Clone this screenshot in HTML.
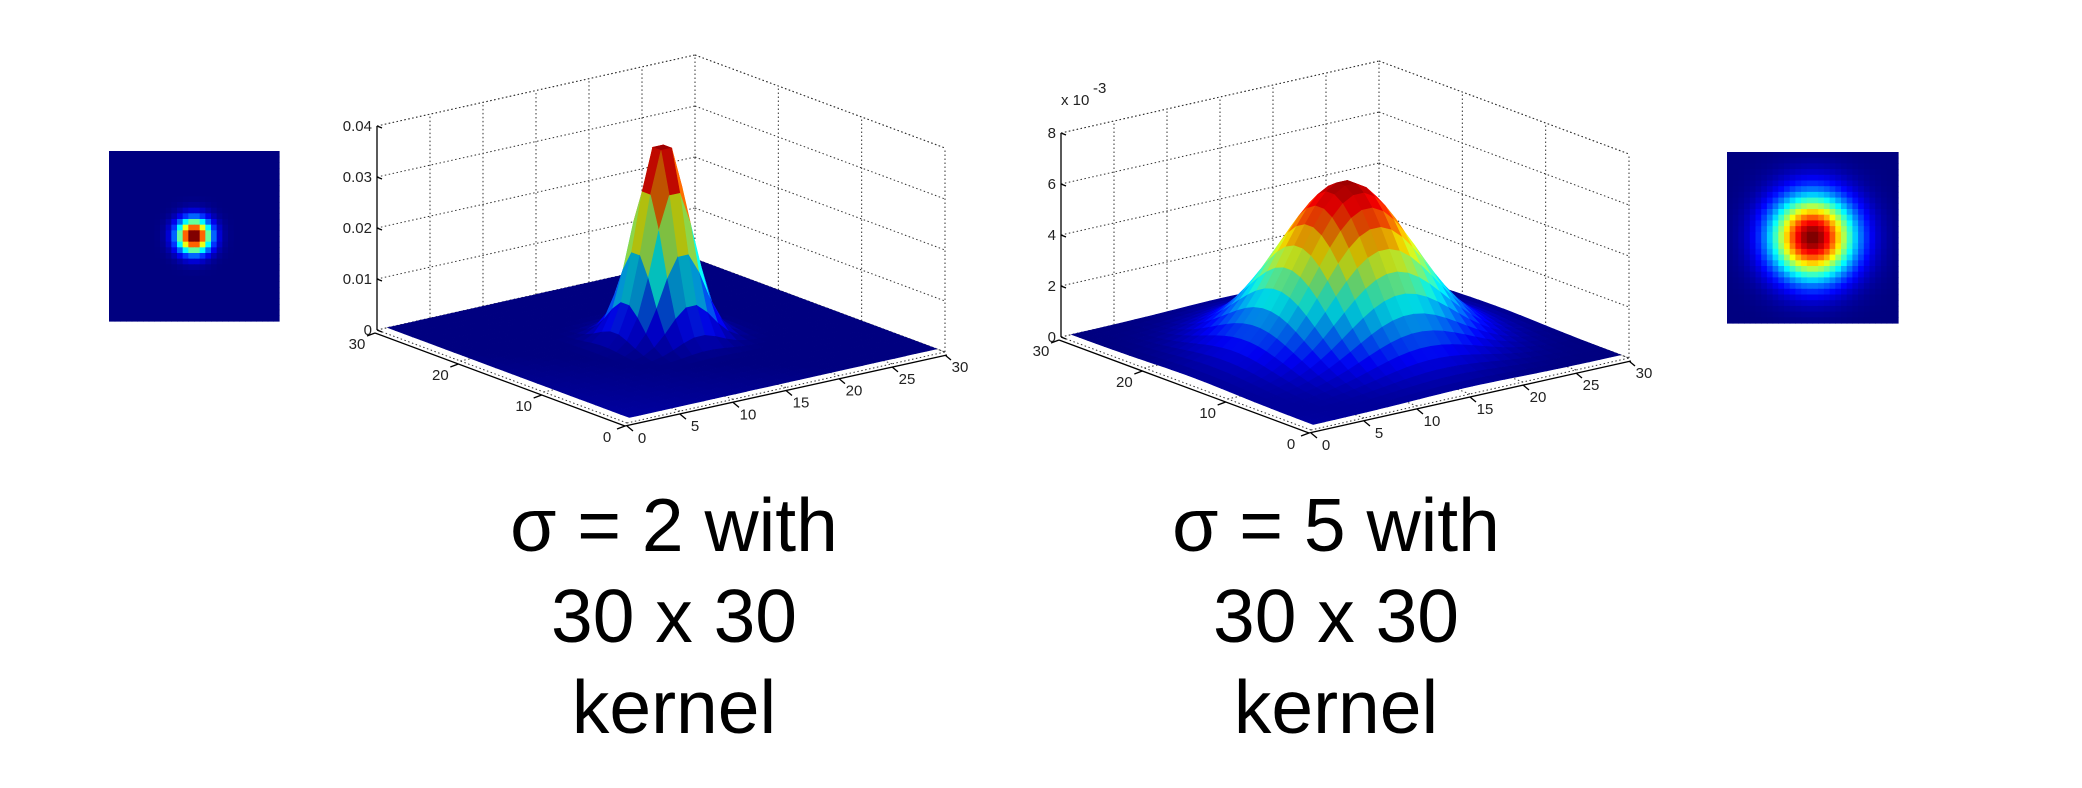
<!DOCTYPE html>
<html><head><meta charset="utf-8"><title>Gaussian kernels</title>
<style>
html,body{margin:0;padding:0;background:#fff;}
svg{display:block;}
.tk{font-family:"Liberation Sans",sans-serif;font-size:15px;fill:#222;}
.cap{font-family:"Liberation Sans","DejaVu Sans",sans-serif;font-size:75px;fill:#000;}
</style></head>
<body>
<svg id="root" width="2082" height="788" viewBox="0 0 2082 788" xmlns="http://www.w3.org/2000/svg">
  <g id="heatLeft"></g>
  <g id="heatRight"></g>
  <g id="plotLeft"></g>
  <g id="plotRight"></g>
  <g>
    <text class="cap" x="674" y="551" text-anchor="middle">σ = 2 with</text>
    <text class="cap" x="674" y="642" text-anchor="middle">30 x 30</text>
    <text class="cap" x="674" y="733" text-anchor="middle">kernel</text>
  </g>
  <g>
    <text class="cap" x="1336" y="551" text-anchor="middle">σ = 5 with</text>
    <text class="cap" x="1336" y="642" text-anchor="middle">30 x 30</text>
    <text class="cap" x="1336" y="733" text-anchor="middle">kernel</text>
  </g>
</svg>
<script>
const kernelSize = 30;
const sigmas = [2, 5];
const leftZTicks = [0, 0.01, 0.02, 0.03, 0.04];
const leftZLabels = ["0", "0.01", "0.02", "0.03", "0.04"];
const rightZTicks = [0, 0.002, 0.004, 0.006, 0.008];
const rightZLabels = ["0", "2", "4", "6", "8"];
const iTicks = [0, 5, 10, 15, 20, 25, 30];
const iLabels = ["0", "5", "10", "15", "20", "25", "30"];
const jTicks = [0, 10, 20, 30];
const jLabels = ["0", "10", "20", "30"];

const NS = "http://www.w3.org/2000/svg";
function mk(tag, attrs, parent) {
  const e = document.createElementNS(NS, tag);
  for (const k in attrs) e.setAttribute(k, attrs[k]);
  parent.appendChild(e);
  return e;
}
function jetArr(t) {
  t = Math.max(0, Math.min(1, t));
  const c = v => 255 * Math.max(0, Math.min(1, v));
  return [c(1.5 - Math.abs(4 * t - 3)), c(1.5 - Math.abs(4 * t - 2)), c(1.5 - Math.abs(4 * t - 1))];
}
function jet(t) { return "rgb(" + jetArr(t).map(Math.round).join(",") + ")"; }
function kernel(s) {
  const c = (kernelSize - 1) / 2, g = [];
  let sum = 0;
  for (let i = 0; i < kernelSize; i++) {
    g.push([]);
    for (let j = 0; j < kernelSize; j++) {
      const v = Math.exp(-((i - c) ** 2 + (j - c) ** 2) / (2 * s * s));
      g[i].push(v); sum += v;
    }
  }
  for (let i = 0; i < kernelSize; i++) for (let j = 0; j < kernelSize; j++) g[i][j] /= sum;
  return g;
}

function heatmap(gId, k, x0, y0, size) {
  const g = document.getElementById(gId);
  let mx = 0;
  k.forEach(r => r.forEach(v => mx = Math.max(mx, v)));
  const cs = size / kernelSize;
  for (let r = 0; r < kernelSize; r++) for (let c = 0; c < kernelSize; c++) {
    const e = mk("rect", {x: (x0 + c * cs).toFixed(2), y: (y0 + r * cs).toFixed(2), width: (cs + 0.6).toFixed(2), height: (cs + 0.6).toFixed(2), fill: jet(k[r][c] / mx)}, g);
    
    
  }
}

function surfacePlot(gId, k, F, R, L, zmax, zTicks, zLabels, expLabel) {
  const g = document.getElementById(gId);
  const H = 204;
  const P = (x, y, z) => [F[0] + x / 30 * (R[0] - F[0]) + y / 30 * (L[0] - F[0]),
                          F[1] + x / 30 * (R[1] - F[1]) + y / 30 * (L[1] - F[1]) - z / zmax * H];
  const line = (a, b, dashed, name) => {
    const e = mk("line", {x1: a[0], y1: a[1], x2: b[0], y2: b[1], stroke: dashed ? "#333" : "#000", "stroke-width": dashed ? 1 : 1.3, "stroke-dasharray": dashed ? "1.5,2.5" : "none"}, g);
    
    
  };
  const text = (x, y, s, anchor, name) => {
    const e = mk("text", {x: x, y: y, class: "tk", "text-anchor": anchor}, g);
    e.textContent = s;
    
    
    return e;
  };
  zTicks.forEach(z => {
    line(P(0, 30, z), P(30, 30, z), true, 'gridline-z');
    line(P(30, 30, z), P(30, 0, z), true, 'gridline-z');
  });
  iTicks.forEach(x => { if (x > 0) line(P(x, 30, 0), P(x, 30, zmax), true, 'gridline-x'); });
  jTicks.forEach(y => { if (y < 30) line(P(30, y, 0), P(30, y, zmax), true, 'gridline-y'); });
  iTicks.forEach(x => line(P(x, 0, 0), P(x, 30, 0), true, 'floor-gridline'));
  jTicks.forEach(y => line(P(0, y, 0), P(30, y, 0), true, 'floor-gridline'));
  line(P(0, 30, 0), P(0, 30, zmax), false, 'z-axis');
  zTicks.forEach((z, n) => {
    const p = P(0, 30, z);
    line(p, [p[0] + 5, p[1] + 2], false, 'z-tick');
    text(p[0] - 5, p[1] + 5, zLabels[n], "end", 'z-tick-label');
  });
  if (expLabel) {
    const p = P(0, 30, zmax);
    text(p[0] + 0, p[1] - 28, "x 10", "start", 'z-exponent-label');
    const s = text(p[0] + 32, p[1] - 40, "-3", "start", 'z-exponent-power');
    s.setAttribute("font-size", "10");
  }
  let mx = 0;
  k.forEach(r => r.forEach(v => mx = Math.max(mx, v)));
  const faces = [];
  for (let a = 0; a < kernelSize - 1; a++) for (let b = 0; b < kernelSize - 1; b++) {
    const z = [k[a][b], k[a + 1][b], k[a + 1][b + 1], k[a][b + 1]];
    faces.push({a, b, z, d: a + b});
  }
  faces.sort((p, q) => q.d - p.d);
  const sg = mk("g", {}, g);
  
  
  faces.forEach(f => {
    const pts = [P(f.a + 1, f.b + 1, f.z[0]), P(f.a + 2, f.b + 1, f.z[1]), P(f.a + 2, f.b + 2, f.z[2]), P(f.a + 1, f.b + 2, f.z[3])];
    const dzx = ((f.z[1] + f.z[2]) - (f.z[0] + f.z[3])) / 2 / mx;
    const dzy = ((f.z[2] + f.z[3]) - (f.z[0] + f.z[1])) / 2 / mx;
    const avg = (f.z[0] + f.z[1] + f.z[2] + f.z[3]) / 4 / mx;
    const base = jetArr(avg * 0.97);
    const light = Math.max(0.75, Math.min(1.2, 1.0 - 1.2 * dzx - 1.2 * dzy));
    const lift = Math.max(0, Math.min(40, (f.a + f.b < 20 ? (20 - f.a - f.b) * 1.5 : 0)));
    const m = base.map((v, i) => Math.min(255, Math.round(v * light + (i === 2 ? lift : 0))));
    const fill = "rgb(" + m.join(",") + ")";
    const e = mk("polygon", {points: pts.map(p => p[0].toFixed(1) + "," + p[1].toFixed(1)).join(" "), fill: fill, stroke: fill, "stroke-width": 0.6}, sg);
    
    
  });
  line(P(0, 30, zmax), P(30, 30, zmax), true, 'box-edge');
  line(P(30, 30, zmax), P(30, 0, zmax), true, 'box-edge');
  line(P(30, 0, 0), P(30, 0, zmax), true, 'box-edge');
  const Fa = P(0, 0, 0), La = P(0, 30, 0), Ra = P(30, 0, 0);
  line([La[0] - 2, La[1] + 3], [Fa[0] - 2, Fa[1] + 3], false, 'y-axis');
  line([Fa[0] - 2, Fa[1] + 3], [Ra[0] + 2, Ra[1] + 3], false, 'x-axis');
  jTicks.forEach((y, n) => {
    const p = P(0, y, 0);
    line([p[0] - 2, p[1] + 3], [p[0] - 10, p[1] + 6], false, 'y-tick');
    text(p[0] - 20, p[1] + 19, jLabels[n], "middle", 'y-tick-label');
  });
  iTicks.forEach((x, n) => {
    const p = P(x, 0, 0);
    line([p[0], p[1] + 3], [p[0] + 6, p[1] + 8], false, 'x-tick');
    text(p[0] + 15, p[1] + 20, iLabels[n], "middle", 'x-tick-label');
  });
}

const kL = kernel(sigmas[0]), kR = kernel(sigmas[1]);
heatmap("heatLeft", kL, 109, 151, 170);
heatmap("heatRight", kR, 1727, 152, 171);
surfacePlot("plotLeft", kL, [627, 423], [945, 352], [377, 330], 0.04, leftZTicks, leftZLabels, false);
surfacePlot("plotRight", kR, [1311, 430], [1629, 358], [1061, 337], 0.008, rightZTicks, rightZLabels, true);
</script>
</body></html>
